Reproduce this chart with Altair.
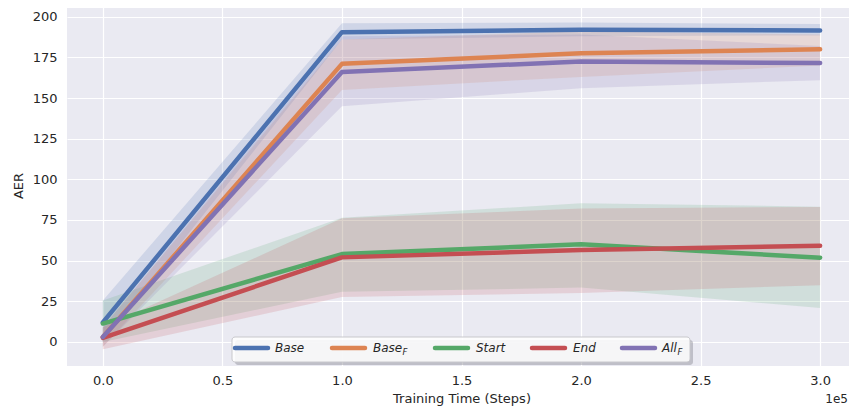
import altair as alt
import pandas as pd

# ---- data ----
steps = [0, 100000, 200000, 300000]
series_names = ["Base", "BaseF", "Start", "End", "AllF"]

base_mean = [12.0, 190.5, 192.0, 191.5]
base_lower = [0.0, 186.0, 188.0, 188.5]
base_upper = [25.5, 196.0, 196.5, 195.5]

basef_mean = [3.0, 171.0, 177.5, 180.0]
basef_lower = [-3.0, 155.0, 163.0, 170.0]
basef_upper = [9.0, 186.0, 191.0, 189.0]

start_mean = [11.3, 54.0, 60.0, 51.8]
start_lower = [0.0, 30.8, 33.4, 20.9]
start_upper = [25.5, 76.4, 85.3, 83.2]

end_mean = [2.5, 52.0, 56.5, 59.2]
end_lower = [-4.5, 27.7, 30.1, 34.9]
end_upper = [9.0, 76.0, 82.0, 83.0]

allf_mean = [3.0, 166.0, 172.5, 171.5]
allf_lower = [-3.0, 145.0, 156.0, 161.0]
allf_upper = [9.0, 188.0, 189.0, 182.0]

colors = ["#4C72B0", "#DD8452", "#55A868", "#C44E52", "#8172B3"]

x_ticks = [0, 50000, 100000, 150000, 200000, 250000, 300000]
y_ticks = [0, 25, 50, 75, 100, 125, 150, 175, 200]

legend_labels = ["Base", "Base", "Start", "End", "All"]
legend_subs = ["", "F", "", "", "F"]

# ---- build tables ----
all_series = {
    "Base": (base_mean, base_lower, base_upper),
    "BaseF": (basef_mean, basef_lower, basef_upper),
    "Start": (start_mean, start_lower, start_upper),
    "End": (end_mean, end_lower, end_upper),
    "AllF": (allf_mean, allf_lower, allf_upper),
}
rows = []
for name in series_names:
    m, lo, up = all_series[name]
    for s, a, b, c in zip(steps, m, lo, up):
        rows.append({"series": name, "step": s, "mean": a, "lower": b, "upper": c})
df = pd.DataFrame(rows)

# legend layout (pixel positions inside the plot area)
sym_x = [168, 265, 368, 465, 555]
sym_len = 33
lab_x = [208, 306, 409, 506, 595]
sub_dx = [0, 29.5, 0, 0, 15.5]
leg_y = 343

leg_df = pd.DataFrame({
    "series": series_names,
    "label": legend_labels,
    "sub": legend_subs,
    "sx": sym_x,
    "sx2": [v + sym_len for v in sym_x],
    "lx": lab_x,
    "subx": [l + d for l, d in zip(lab_x, sub_dx)],
})

TXT = "#262626"
FONT = "DejaVu Sans"

color_scale = alt.Scale(domain=series_names, range=colors)
xscale = alt.Scale(domain=[-15000, 315000], nice=False, zero=False)
yscale = alt.Scale(domain=[-14.8, 207.2], nice=False, zero=False)

x_axis = alt.Axis(
    values=x_ticks,
    labelExpr="format(datum.value / 100000, '.1f')",
    title="Training Time (Steps)",
    grid=True, gridColor="white", gridWidth=1.2,
    ticks=False, domain=False,
    labelPadding=8, labelFontSize=13, labelColor=TXT, labelFont=FONT,
    titleFontSize=13, titleFontWeight="normal", titleColor=TXT, titleFont=FONT,
    titlePadding=5,
)
y_axis = alt.Axis(
    values=y_ticks,
    title="AER",
    grid=True, gridColor="white", gridWidth=1.2,
    ticks=False, domain=False,
    labelPadding=10, labelFontSize=13, labelColor=TXT, labelFont=FONT,
    titleFontSize=13, titleFontWeight="normal", titleColor=TXT, titleFont=FONT,
    titlePadding=7,
)

bands = alt.Chart(df).mark_area(opacity=0.17).encode(
    x=alt.X("step:Q", scale=xscale, axis=x_axis),
    y=alt.Y("lower:Q", scale=yscale, axis=y_axis, stack=None),
    y2="upper:Q",
    color=alt.Color("series:N", scale=color_scale, legend=None),
    detail="series:N",
)

lines = []
for name in series_names:
    lines.append(
        alt.Chart(df).transform_filter(alt.datum.series == name).mark_line(
            strokeWidth=4.5, strokeCap="round", strokeJoin="round"
        ).encode(
            x=alt.X("step:Q", scale=xscale),
            y=alt.Y("mean:Q", scale=yscale),
            color=alt.Color("series:N", scale=color_scale, legend=None),
        )
    )

dummy = pd.DataFrame({"a": [0]})
box_x0, box_x1, box_y0, box_y1 = 165, 623, 332, 357
leg_shadow = alt.Chart(dummy).mark_rect(
    cornerRadius=3, fill="#8c8c94", opacity=0.45
).encode(
    x=alt.value(box_x0 + 3), x2=alt.value(box_x1 + 3),
    y=alt.value(box_y0 + 3), y2=alt.value(box_y1 + 3),
)
leg_box = alt.Chart(dummy).mark_rect(
    cornerRadius=3, fill="white", fillOpacity=0.85, stroke="#c8c8cc", strokeWidth=1
).encode(
    x=alt.value(box_x0), x2=alt.value(box_x1),
    y=alt.value(box_y0), y2=alt.value(box_y1),
)
leg_sym = alt.Chart(leg_df).mark_rule(strokeWidth=4.5, strokeCap="round").encode(
    x=alt.X("sx:Q", scale=None), x2="sx2:Q", y=alt.value(leg_y),
    color=alt.Color("series:N", scale=color_scale, legend=None),
)
leg_txt = alt.Chart(leg_df).mark_text(
    align="left", baseline="middle", fontSize=12, fontStyle="italic", font=FONT, color=TXT
).encode(
    x=alt.X("lx:Q", scale=None), y=alt.value(leg_y), text="label:N",
)
leg_sub = alt.Chart(leg_df).transform_filter(alt.datum["sub"] != "").mark_text(
    align="left", baseline="middle", fontSize=8.5, fontStyle="italic", font=FONT, color=TXT
).encode(
    x=alt.X("subx:Q", scale=None), y=alt.value(leg_y + 4), text="sub:N",
)
offset_txt = alt.Chart(dummy).mark_text(
    align="right", baseline="middle", fontSize=12, font=FONT, color=TXT
).encode(
    x=alt.value(781), y=alt.value(394), text=alt.value("1e5"),
)

chart = alt.layer(
    bands, *lines, leg_shadow, leg_box, leg_sym, leg_txt, leg_sub, offset_txt
).properties(
    width=789, height=361,
    autosize=alt.AutoSizeParams(type="none"),
    padding={"left": 59, "top": -3, "right": -7, "bottom": 42},
).configure_view(
    stroke=None, fill="#EAEAF2"
)

chart.save("out.html", embed_options={"renderer": "svg", "actions": False})
